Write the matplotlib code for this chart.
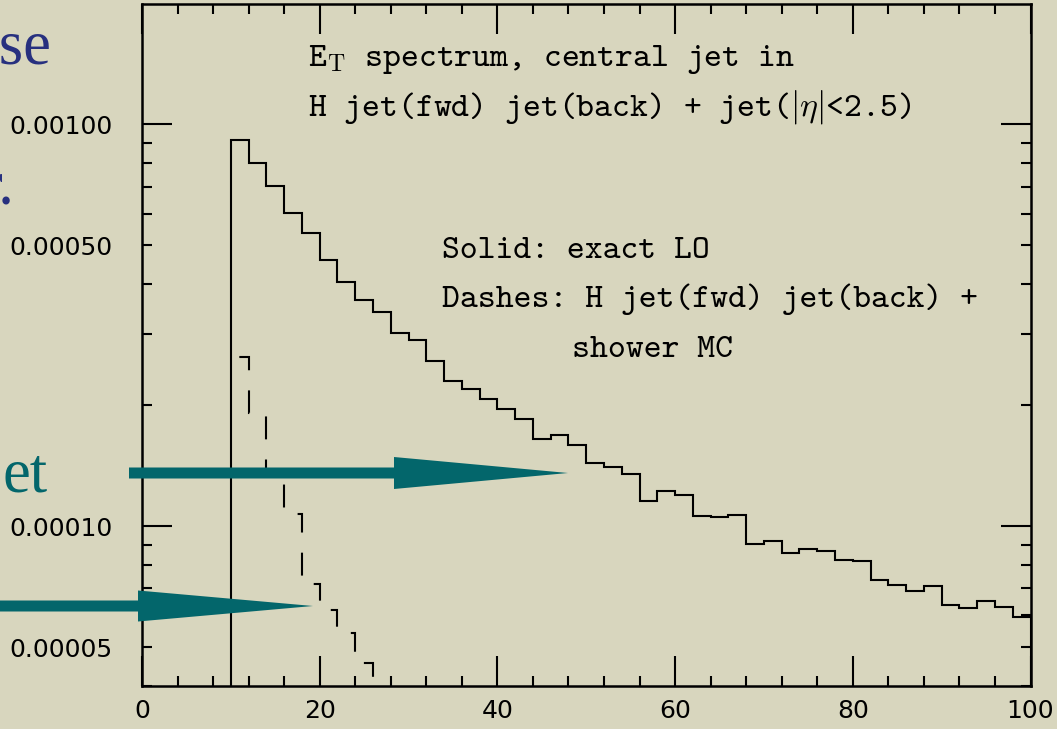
import numpy as np
import matplotlib.pyplot as plt
from matplotlib.patches import Polygon

plt.rcParams['lines.scale_dashes'] = False
plt.rcParams['mathtext.fontset'] = 'cm'

W, H = 1057, 729
paper = '#d8d6be'
navy = '#27307f'
teal = '#03666b'

# E_T bins (2 GeV wide)
lo_edges = np.arange(10, 101, 2)
# exact LO (solid)
lo_vals = [9.16e-4, 8.03e-4, 7.03e-4, 6.03e-4, 5.38e-4, 4.61e-4, 4.06e-4, 3.65e-4,
           3.41e-4, 3.03e-4, 2.91e-4, 2.58e-4, 2.30e-4, 2.19e-4, 2.07e-4, 1.96e-4,
           1.85e-4, 1.65e-4, 1.69e-4, 1.59e-4, 1.44e-4, 1.405e-4, 1.345e-4, 1.153e-4,
           1.223e-4, 1.195e-4, 1.061e-4, 1.053e-4, 1.067e-4, 9.03e-5, 9.18e-5, 8.56e-5,
           8.78e-5, 8.65e-5, 8.23e-5, 8.21e-5, 7.36e-5, 7.13e-5, 6.91e-5, 7.11e-5,
           6.38e-5, 6.24e-5, 6.51e-5, 6.30e-5, 5.94e-5]
# shower MC (dashes)
mc_edges = np.arange(10, 29, 2)
mc_vals = [2.64e-4, 1.91e-4, 1.34e-4, 1.07e-4, 7.17e-5, 6.17e-5, 5.42e-5, 4.57e-5, 3.0e-5]

xticks = [0, 20, 40, 60, 80, 100]
xminor = [4, 8, 12, 16, 24, 28, 32, 36, 44, 48, 52, 56, 64, 68, 72, 76, 84, 88, 92, 96]
yticks = [1e-4, 1e-3]
ylabels = ['0.00010', '0.00100']
yminor = [4e-5, 5e-5, 6e-5, 7e-5, 8e-5, 9e-5, 2e-4, 3e-4, 4e-4, 5e-4, 6e-4, 7e-4, 8e-4, 9e-4]
yminor_labels = ['', '0.00005', '', '', '', '', '', '', '', '0.00050', '', '', '', '']

fig = plt.figure(figsize=(W / 100, H / 100), dpi=100, facecolor=paper)
ax = fig.add_axes([142 / W, 1 - 686 / H, 888.5 / W, 682.5 / H], facecolor=paper)

ax.stairs(lo_vals, lo_edges, baseline=1e-6, color='black', lw=1.5)
ax.stairs(mc_vals, mc_edges, baseline=None, color='black', lw=1.5,
          linestyle=(25, (16.5, 14.5)))

ax.set_yscale('log')
ax.set_xlim(0, 100)
ax.set_ylim(4e-5, 2e-3)

ax.set_xticks(xticks, labels=[str(v) for v in xticks])
ax.set_xticks(xminor, minor=True)
ax.set_yticks(yticks, labels=ylabels)
ax.set_yticks(yminor, labels=yminor_labels, minor=True)

for s in ax.spines.values():
    s.set_linewidth(1.8)
ax.tick_params(which='both', direction='in', top=True, right=True, width=1.5,
               labelsize=18, colors='black')
ax.tick_params(which='major', length=21.6)
ax.tick_params(which='minor', length=7.2)
ax.tick_params(axis='y', which='both', pad=21)
ax.tick_params(axis='x', which='both', pad=9)

def px(x, y):
    return x / W, 1 - y / H

tkw = dict(family='cmtt10', fontsize=24.5, color='black', va='baseline')
fig.text(*px(308, 66), r'E$_\mathrm{T}$ spectrum, central jet in', **tkw)
fig.text(*px(308, 115), r'H jet(fwd) jet(back) + jet($|\eta|$<2.5)', **tkw)
fig.text(*px(442, 258), 'Solid: exact LO', **tkw)
fig.text(*px(442, 307), 'Dashes: H jet(fwd) jet(back) +', **tkw)
fig.text(*px(572, 357), 'shower MC', **tkw)

# pieces of the slide text cut at the left edge
skw = dict(family='Liberation Serif', fontsize=45, va='baseline', ha='right')
fig.text(*px(52, 63), 'ase', color=navy, **skw)
fig.text(*px(15, 203), 'r.', color=navy, **skw)
fig.text(*px(48, 492), 'et', color=teal, **skw)

# arrows
def arrow(x0, x1, xtip, yc, shaft, head):
    pts = [(x0, yc - shaft), (x1, yc - shaft), (x1, yc - head), (xtip, yc),
           (x1, yc + head), (x1, yc + shaft), (x0, yc + shaft)]
    fig.add_artist(Polygon([px(a, b) for a, b in pts], closed=True,
                           transform=fig.transFigure, color=teal, lw=0, zorder=5))

arrow(129, 394, 568, 473, 5.5, 16)
arrow(-5, 138, 313, 606, 5.5, 15.5)

fig.savefig('out.png', dpi=100, facecolor=paper)
